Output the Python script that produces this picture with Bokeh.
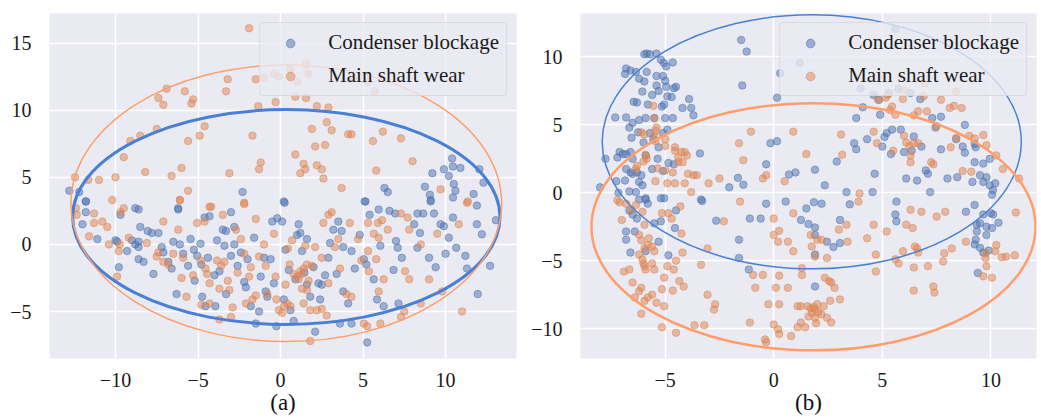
from bokeh.plotting import figure
from bokeh.layouts import row
from bokeh.models import Legend, LegendItem, CustomJSTickFormatter, Range1d, FixedTicker
from bokeh.embed import file_html
from bokeh.resources import INLINE

# ---------------- data: panel (a) ----------------
a_blue = [(-12.8,4.0),(-12.2,3.9),(-11.8,3.2),(-8.6,2.6),(-6.2,2.7),(-2.3,3.9),(0.2,3.2),(5.15,3.2),
(6.3,4.2),(6.5,3.9),(8.75,4.3),(9.05,3.7),(9.1,3.3),(9.2,5.3),(9.9,5.6),(10.2,5.1),(10.4,6.4),(10.45,5.8),
(10.5,4.5),(10.6,4.0),(10.45,3.5),(10.9,5.7),(11.7,3.75),(12.05,5.6),(12.3,4.6),(11.9,2.9),
(-11.8,2.4),(-11.8,3.2),(-12.0,1.5),(-11.1,0.4),(-10.0,0.3),(-9.9,0.2),(-9.7,2.2),(-9.8,-1.7),(-9.3,-0.5),
(-9.0,0.3),(-8.8,0.0),(-8.6,-0.2),(-8.6,0.2),(-8.8,2.7),(-8.5,1.3),(-8.6,-1.1),(-8.3,-1.3),(-8.05,1.0),
(-7.8,0.85),(-7.4,0.85),(-7.7,-2.2),(-7.1,-0.6),(-6.8,-1.3),(-6.5,0.2),(-6.2,2.6),(-6.1,0.0),(-5.9,-0.7),
(-6.3,-3.7),(-5.45,0.4),(-5.25,-0.4),(-5.05,-0.85),(-4.85,0.05),(-4.6,2.0),(-4.3,2.1),(-4.75,-3.9),
(-4.55,-4.6),(-3.95,-4.6),(-4.0,-2.3),(-3.85,0.3),(-3.5,1.1),(-3.3,1.0),(-3.0,2.4),(-3.4,-0.1),(-3.0,-0.85),
(-2.8,0.0),(-3.3,-3.7),(-2.8,1.3),(-2.4,-0.6),(-2.0,-1.1),(-2.1,-3.2),(-1.6,0.5),(-1.0,-1.0),(-0.9,-3.5),
(-0.8,-3.9),(-0.6,-1.1),(-0.5,1.7),(-0.2,1.95),(0.1,1.7),(0.25,3.1),(-0.25,-6.1),(0.3,-0.4),(0.2,-4.1),
(-1.5,-5.9),(-1.3,-5.0),(0.6,-4.9),(0.8,-5.7),(1.0,0.7),(1.1,1.5),(1.2,0.85),(1.3,-0.5),(1.6,0.4),
(1.45,-2.1),(1.8,-3.9),(2.0,-1.7),(2.1,-6.5),(2.3,-2.9),(2.5,-3.0),(2.4,-4.1),(2.7,-2.3),(3.0,0.1),
(3.2,1.1),(3.5,1.7),(3.7,1.0),(3.8,-0.2),(3.4,-2.2),(3.8,-3.5),(4.1,-4.4),(4.3,-5.9),(3.6,-5.9),
(4.3,-0.5),(4.5,-1.8),(4.8,0.7),(5.05,-1.1),(5.2,-1.5),(5.1,3.2),(5.25,-7.3),(5.4,2.2),(5.65,-2.6),
(5.85,-4.1),(5.95,2.6),(6.05,-0.1),(6.25,-4.6),(6.6,2.5),(6.95,2.3),(7.0,0.25),(7.1,-0.25),(7.35,-1.0),
(6.85,-1.9),(7.15,-4.4),(8.1,1.5),(8.3,2.3),(8.65,2.3),(8.45,0.85),(8.3,-0.25),(9.0,-1.0),(9.4,-1.7),
(9.1,3.2),(9.3,2.3),(9.7,1.5),(9.9,1.35),(10.0,-0.7),(10.2,0.5),(10.45,2.0),(10.65,-0.25),(11.2,-0.85),
(11.3,-1.8),(11.9,1.5),(11.95,-3.7),(12.2,0.75),(12.7,-1.6),(13.05,1.8),
(-5.6,-1.6),(-4.4,-1.0),(-3.7,-2.0),(-2.6,-1.6),(-1.2,-2.4),(-0.4,-2.9),(0.9,-2.6),(1.6,-3.0),
(-7.2,-0.2),(-6.6,-1.8),(-5.2,-2.7),(-4.8,-1.5),(-2.2,-2.8),(-1.8,-4.6),(0.5,-1.9),(2.9,-1.0)]
a_orange = [(-1.9,16.1),(0.6,13.0),(1.55,13.4),(1.7,12.7),(-0.4,12.7),(-0.1,12.5),(1.0,12.1),(-3.2,12.3),
(-1.5,12.3),(-1.0,12.4),(-6.9,11.6),(-7.4,10.9),(-7.1,10.4),(-5.8,11.4),(-5.3,10.8),(-5.4,10.5),(-3.3,11.4),
(4.4,12.3),(5.3,12.1),(5.7,11.4),(0.9,11.0),(1.55,10.9),(-0.3,10.6),(-1.35,10.3),(2.2,10.3),(2.9,10.2),
(2.8,9.1),(3.1,8.5),(1.9,8.6),(-7.5,8.6),(-9.1,7.7),(-8.5,8.1),(-4.6,8.8),(-4.9,8.1),(-5.6,7.7),(-1.7,8.1),
(2.1,7.3),(2.7,7.4),(4.1,8.2),(4.3,8.2),(5.6,7.7),(6.2,8.4),(7.3,7.9),(8.0,6.2),(0.9,6.7),(1.4,6.0),
(1.2,5.3),(1.5,5.6),(2.2,5.9),(2.5,5.6),(2.6,4.9),(-1.2,6.1),(-1.3,5.6),(-3.1,5.3),(-6.0,5.7),(-6.6,5.1),
(-8.2,5.4),(-9.5,6.5),(-10.0,5.0),(-11.0,4.8),(-11.65,4.8),(-12.45,5.0),(5.8,5.5),(3.7,4.2),(9.7,4.1),
(11.35,3.2),(-5.6,4.0),(-6.1,3.3),(-2.2,3.1),(-4.3,2.8),(-9.5,2.7),
(-12.4,2.7),(-12.35,2.2),(-11.3,2.3),(-11.3,1.6),(-11.6,0.6),(-10.8,1.7),(-10.5,1.3),(-10.4,0.0),
(-9.7,2.4),(-9.2,0.5),(-9.75,0.0),(-9.8,-0.5),(-9.9,-2.4),(-10.2,3.3),(-8.1,0.1),(-7.4,-0.6),
(-7.5,-0.9),(-7.1,-1.3),(-7.1,1.7),(-6.5,-0.7),(-6.2,1.1),(-6.0,-2.5),(-5.7,-3.9),(-6.1,3.3),(-5.05,1.6),
(-4.6,1.7),(-4.2,2.8),(-3.5,2.2),(-4.85,-1.2),(-4.55,-1.8),(-4.45,-2.2),(-4.3,-2.9),(-4.8,-4.5),(-4.3,-4.4),
(-3.85,-1.2),(-3.6,-1.6),(-3.4,-1.3),(-3.2,-2.7),(-3.1,-3.4),(-3.7,-3.3),(-3.7,-5.6),(-3.0,-5.4),(-2.7,1.1),
(-2.4,0.4),(-2.2,3.0),(-2.2,-0.7),(-1.8,-1.7),(-1.9,-2.4),(-2.1,-4.4),(-1.7,-4.1),(-1.5,-3.8),(-1.5,1.9),
(-1.3,-0.9),(-1.0,0.0),(-0.8,-3.7),(-0.4,0.8),(-0.3,-2.4),(-0.25,-4.1),(-0.1,-4.9),(0.2,-4.6),(0.4,-4.4),
(0.6,-4.6),(0.1,-5.1),(0.45,-0.3),(0.7,0.3),(0.55,-1.5),(0.8,-2.2),(1.0,-2.4),(1.2,-2.0),(1.3,-2.2),
(1.4,-1.8),(1.5,-0.1),(1.6,-1.5),(1.9,-1.6),(1.7,-2.7),(1.3,-3.3),(1.6,-3.4),(1.4,-4.4),(1.8,-4.9),
(2.2,-4.9),(2.5,-4.8),(2.9,-2.9),(2.8,-5.3),(1.8,-7.2),(2.1,-0.2),(2.5,-1.0),(2.6,1.6),(3.1,2.4),(2.9,2.2),
(3.3,-0.2),(3.5,0.4),(3.6,-1.8),(4.0,-3.7),(4.3,-3.9),(4.2,1.6),(4.7,0.4),(4.9,-1.2),(5.3,1.6),(5.3,-0.5),
(5.35,-2.0),(5.05,-5.9),(5.25,-6.1),(5.65,0.8),(5.9,1.6),(5.95,0.5),(5.8,-1.1),(5.95,-3.5),(6.05,-5.9),
(6.15,1.8),(6.5,1.1),(6.25,-2.6),(7.3,2.3),(7.7,2.0),(7.8,1.1),(7.55,-2.0),(7.8,-2.6),(7.3,-5.4),(7.5,-5.0),
(8.5,-4.4),(8.5,0.0),(9.0,-2.6),(9.5,0.8),(9.8,-3.5),(10.8,1.5),(11.0,-5.0),(11.3,3.1),
(-5.3,-2.3),(-2.6,-2.1),(-0.9,-1.6),(0.3,-3.0),(1.1,-2.6),(-6.8,-1.5),(-5.9,-1.0),(-2.9,-4.7)]

# ---------------- data: panel (b) ----------------
b_blue = [(-5.96,10.2),(-5.85,10.25),(-5.7,10.2),(-5.4,10.25),(-5.2,9.8),(-5.06,9.55),(-4.65,9.6),(-4.95,9.3),
(-6.8,9.15),(-6.6,9.0),(-6.85,8.75),(-6.35,8.9),(-6.2,8.4),(-5.96,8.2),(-5.85,8.9),(-5.4,8.6),(-5.1,8.6),
(-5.0,8.25),(-5.4,7.9),(-4.95,7.8),(-4.6,7.7),(-4.5,7.8),(-5.3,7.5),(-4.9,7.1),(-4.7,7.05),(-5.6,7.2),
(-6.05,7.45),(-6.45,6.7),(-6.3,6.65),(-5.8,6.5),(-5.15,6.35),(-5.05,6.5),(-3.9,6.9),(-4.2,6.25),(-3.8,6.25),
(-3.7,5.7),(-7.3,5.55),(-6.8,5.55),(-6.5,5.15),(-6.65,4.8),(-6.2,5.35),(-5.9,5.5),(-5.5,5.5),(-5.0,5.5),
(-4.65,5.5),(-4.9,4.65),(-5.1,4.4),(-5.7,4.4),(-6.25,4.45),(-6.55,4.05),(-6.0,3.7),(-5.55,3.95),(-5.3,3.35),
(-7.75,2.5),(-7.1,3.0),(-6.95,2.85),(-7.2,2.6),(-6.8,2.85),(-6.6,3.0),(-6.5,2.5),(-5.9,2.75),(-5.35,2.5),
(-4.85,2.2),(-4.6,2.1),(-6.8,1.75),(-6.6,1.5),(-6.5,1.4),(-6.3,1.5),(-6.1,1.3),(-5.6,1.75),(-5.1,1.6),
(-7.25,0.85),(-6.85,0.9),(-6.2,0.8),(-6.05,0.55),(-6.35,0.05),(-8.0,0.4),(-7.15,0.0),(-6.65,0.1),(-5.9,-0.4),
(-5.2,-0.4),(-3.4,2.9),(-3.3,-0.6),(-2.05,0.4),(-1.5,11.25),(-1.25,10.4),(-1.45,7.9),(0.15,7.0),(0.3,8.8),
(1.2,9.55),(-0.15,3.65),(0.15,3.8),(-0.35,2.1),(-1.65,1.1),(-1.4,0.6),(0.7,1.35),(1.0,1.5),(1.9,1.7),
(2.35,0.55),(2.9,2.3),(3.35,0.05),(3.7,3.65),(3.8,3.2),(3.8,5.5),(4.0,7.7),(4.1,6.3),(4.3,3.95),(4.65,1.4),
(4.55,0.05),(4.6,7.2),(4.85,6.85),(4.9,5.75),(5.1,4.1),(5.0,3.4),(5.2,4.4),(5.3,7.35),(5.4,2.85),(5.45,4.65),
(5.6,12.05),(5.75,7.65),(5.85,4.65),(6.0,3.0),(6.1,1.05),(6.3,7.35),(6.35,3.1),(6.45,4.15),(6.6,0.9),
(6.75,6.9),(6.8,3.4),(7.0,1.65),(7.1,1.4),(7.2,0.05),(7.3,5.5),(7.7,5.6),(7.45,4.8),(7.7,3.2),(8.0,1.05),
(8.4,3.95),(8.45,1.15),(8.7,3.4),(8.8,5.0),(8.8,2.95),(9.15,0.8),(9.25,2.25),(9.25,3.6),(9.3,3.35),(9.5,1.3),
(9.65,0.8),(9.65,2.15),(9.8,1.15),(9.95,0.55),(10.1,0.2),(10.2,0.7),(10.05,-0.15),(9.95,2.5),
(-6.2,-0.5),(-5.9,-0.5),(-5.8,-0.8),(-5.05,-0.4),(-6.65,-1.3),(-6.3,-1.9),(-6.5,-1.6),(-6.8,-2.85),
(-6.4,-2.85),(-6.8,-3.45),(-6.6,-4.4),(-5.9,-4.3),(-5.3,-3.6),(-5.5,-2.25),(-5.2,-2.1),(-4.5,-1.3),
(-4.55,-2.6),(-4.85,-4.6),(-3.35,-0.5),(-2.65,-2.05),(-1.6,-3.45),(-1.6,-4.8),(-1.15,-5.65),(-1.1,-1.9),
(-0.6,-1.9),(-0.35,-0.8),(0.55,-0.65),(1.5,-1.15),(1.25,-2.0),(1.6,-2.3),(1.9,-2.55),(1.9,-3.1),(1.9,-4.55),
(1.9,-6.9),(1.85,-0.7),(2.2,-0.8),(2.45,-3.6),(2.75,-4.0),(3.05,-2.0),(3.05,-3.7),(3.5,-0.85),(5.65,-0.65),
(5.6,-1.6),(5.65,-2.1),(8.85,-1.4),(9.25,-0.9),(9.65,-1.6),(9.35,-2.35),(9.5,-2.25),(9.8,-2.5),(9.35,-2.85),
(9.8,-3.1),(9.3,-3.45),(9.25,-3.8),(9.5,-4.05),(9.65,-4.4),(9.9,-4.25),(10.0,-1.5),(10.1,-1.6),(10.05,-2.6),
(10.35,-2.2),(9.4,-5.9)]
b_orange = [(-5.55,6.4),(-5.5,5.5),(-5.4,4.8),(-5.45,4.55),(-5.5,4.2),(-5.45,3.8),(-6.1,4.45),(-5.96,4.3),
(-5.0,3.45),(-4.55,3.35),(-4.55,3.1),(-4.25,3.0),(-4.1,3.0),(-4.0,2.75),(-4.4,2.6),(-4.4,2.25),(-4.2,2.25),
(-5.0,3.95),(-5.9,2.8),(-5.85,2.5),(-6.0,2.3),(-6.3,2.0),(-6.35,1.75),(-5.35,1.8),(-5.0,1.65),(-4.65,1.5),
(-3.95,1.4),(-3.7,1.3),(-3.55,1.3),(-5.45,0.85),(-4.9,0.7),(-4.55,0.7),(-4.1,0.7),(-3.0,0.7),(-2.5,1.05),
(-3.8,0.05),(-7.2,-0.55),(-6.8,-0.8),(-1.6,3.65),(-1.4,2.4),(-1.05,4.5),(-0.5,1.05),(-0.35,1.3),(0.5,0.85),
(0.9,4.5),(1.5,2.85),(3.1,4.3),(3.15,2.8),(3.95,-0.05),(4.6,4.5),(4.75,3.65),(4.8,6.85),(5.0,8.65),
(5.15,7.0),(5.25,7.2),(5.35,6.1),(5.45,6.35),(5.5,3.1),(5.6,5.75),(5.95,6.9),(6.0,7.55),(6.0,4.2),(6.1,3.7),
(6.25,3.45),(6.3,2.75),(6.3,2.25),(6.45,3.65),(6.45,5.7),(6.65,3.65),(6.65,6.0),(6.9,7.1),(6.95,8.05),
(7.05,6.0),(7.25,2.25),(7.35,2.1),(7.5,4.9),(7.7,6.85),(8.1,6.25),(8.15,3.35),(8.3,6.4),(8.4,7.45),(8.65,6.25),
(8.4,4.05),(8.7,1.6),(9.1,1.55),(9.0,4.2),(9.25,4.0),(9.65,4.25),(9.8,3.5),(10.25,2.75),(10.55,1.75),
(11.3,1.05),
(-7.1,-0.7),(-7.0,-2.0),(-6.55,-1.25),(-6.35,-0.9),(-6.05,-1.4),(-5.95,-2.35),(-6.2,-3.1),(-6.1,-3.5),
(-5.95,-4.1),(-5.8,-3.85),(-5.75,-3.35),(-5.6,-3.95),(-5.5,-4.3),(-6.2,-4.55),(-6.05,-4.9),(-6.0,-5.2),
(-5.95,-5.4),(-5.9,-5.65),(-5.6,-5.2),(-5.5,-5.65),(-6.65,-5.65),(-6.9,-5.8),(-6.5,-6.6),(-6.2,-7.25),
(-6.1,-7.0),(-6.4,-7.7),(-5.95,-7.95),(-5.8,-7.7),(-6.1,-8.9),(-5.6,-7.5),(-5.4,-8.1),(-5.05,-8.35),
(-5.15,-7.1),(-5.05,-6.25),(-4.9,-5.4),(-4.6,-5.65),(-4.5,-5.0),(-4.35,-6.5),(-4.15,-6.9),(-4.65,-7.2),
(-5.15,-9.9),(-4.5,-10.3),(-4.2,-4.4),(-4.25,-3.0),(-4.7,-1.9),(-4.85,-1.5),(-4.3,-1.0),(-5.15,-1.5),
(-3.65,-9.75),(-3.2,-9.75),(-3.35,-5.3),(-3.05,-7.5),(-2.7,-8.2),(-2.75,-8.6),(-2.3,-2.1),(-3.05,-4.1),
(-1.55,-0.65),(-1.1,-9.55),(-0.95,-6.05),(-0.85,-7.0),(-0.5,-6.05),(-0.4,-10.8),(-0.35,-11.0),(-0.25,-8.2),
(0.0,-1.9),(0.0,-3.1),(0.0,-9.7),(0.1,-7.0),(0.2,-3.6),(0.2,-10.05),(0.25,-2.8),(0.25,-8.2),(0.25,-10.4),
(0.25,-6.1),(0.65,-3.6),(0.65,-7.0),(0.8,-10.55),(0.9,-4.3),(0.9,-1.5),(1.1,-8.35),(1.1,-9.9),(1.25,-9.55),
(1.3,-5.55),(1.3,-6.05),(1.25,-8.35),(1.45,-9.9),(1.55,-8.35),(1.6,-9.1),(1.7,-8.5),(1.75,-8.85),(1.85,-8.4),
(1.9,-8.6),(1.9,-9.2),(2.0,-8.2),(2.05,-8.8),(1.95,-9.6),(2.2,-8.95),(2.3,-8.35),(2.45,-9.2),(2.65,-9.55),
(3.05,-7.85),(2.6,-7.95),(2.35,-6.25),(2.55,-6.5),(2.65,-6.6),(2.8,-7.0),(2.0,-3.45),(2.2,-3.45),(1.9,-4.7),
(1.75,-3.95),(1.7,-3.1),(2.45,-4.8),(3.0,-2.7),(3.35,-2.35),(3.4,-3.6),(3.9,-0.65),(4.3,-3.35),(4.6,-2.35),
(4.7,-4.55),(4.7,-5.8),(5.2,-2.85),(5.6,-4.9),(5.75,-5.2),(5.95,-4.3),(6.1,-2.35),(6.3,-1.25),(6.4,-2.6),
(6.5,-3.95),(6.6,-4.1),(6.65,-4.4),(6.45,-5.5),(6.45,-7.2),(6.8,-1.4),(7.1,-5.4),(7.35,-6.9),(7.4,-7.35),
(7.5,-1.75),(7.8,-5.05),(7.85,-4.45),(7.9,-1.4),(8.2,-4.1),(8.85,-3.6),(9.75,-4.45),(9.75,-4.8),(9.8,-5.4),
(9.65,-6.15),(10.05,-6.25),(10.2,-4.3),(10.25,-3.85),(10.5,-4.75),(11.1,-4.6),(11.15,-1.45),(10.7,-4.7)]

# fitted ellipses: (center x, center y, full width, full height)
a_ell_blue = (0.35, 2.04, 25.9, 16.0)
a_ell_orange = (0.35, 3.06, 26.1, 20.6)
b_ell_blue = (1.75, 3.75, 19.3, 18.7)
b_ell_orange = (1.83, -2.5, 20.45, 18.2)

labels = ["Condenser blockage", "Main shaft wear"]
panel_titles = ["(a)", "(b)"]
a_xticks = [-10, -5, 0, 5, 10]
a_yticks = [-5, 0, 5, 10, 15]
b_xticks = [-5, 0, 5, 10]
b_yticks = [-10, -5, 0, 5, 10]

BLUE = "#4C72B0"
ORANGE = "#DD8452"
EBLUE = "#4A80D4"
EORANGE = "#FF9E6A"
FONT = "Liberation Serif"

fmt_code = "return (tick < 0 ? '\\u2212' + (-tick) : '' + tick);"


def make_panel(blue, orange, ell_b, ell_o, lw_b, lw_o, xr, yr, xt, yt, title, width, bl, br):
    p = figure(width=width, height=417, output_backend="svg", toolbar_location=None,
               x_range=Range1d(*xr), y_range=Range1d(*yr),
               min_border_left=bl, min_border_right=br, min_border_top=13,
               min_border_bottom=55)
    p.background_fill_color = "#EAEAF2"
    p.border_fill_color = "white"
    p.outline_line_color = None
    for g in (p.xgrid, p.ygrid):
        g.grid_line_color = "white"
        g.grid_line_width = 1.5
    p.xaxis.ticker = FixedTicker(ticks=xt)
    p.yaxis.ticker = FixedTicker(ticks=yt)
    for ax in (p.xaxis, p.yaxis):
        ax.axis_line_color = None
        ax.major_tick_line_color = None
        ax.minor_tick_line_color = None
        ax.major_label_text_font = FONT
        ax.major_label_text_font_size = "20px"
        ax.major_label_text_color = "#1a1a1a"
        ax.formatter = CustomJSTickFormatter(code=fmt_code)
    p.xaxis.major_label_standoff = 8
    p.yaxis.major_label_standoff = 12
    p.xaxis.axis_label = title
    p.xaxis.axis_label_text_font = FONT
    p.xaxis.axis_label_text_font_style = "normal"
    p.xaxis.axis_label_text_font_size = "23px"
    p.xaxis.axis_label_text_color = "#111111"
    p.xaxis.axis_label_standoff = 0

    rb = p.scatter([q[0] for q in blue], [q[1] for q in blue], size=7.5,
                   fill_color=BLUE, line_color=BLUE, fill_alpha=0.5, line_alpha=0.5)
    ro = p.scatter([q[0] for q in orange], [q[1] for q in orange], size=7.5,
                   fill_color=ORANGE, line_color=ORANGE, fill_alpha=0.5, line_alpha=0.5)
    p.ellipse(x=[ell_b[0]], y=[ell_b[1]], width=[ell_b[2]], height=[ell_b[3]],
              fill_color=None, line_color=EBLUE, line_width=lw_b)
    p.ellipse(x=[ell_o[0]], y=[ell_o[1]], width=[ell_o[2]], height=[ell_o[3]],
              fill_color=None, line_color=EORANGE, line_width=lw_o)

    leg = Legend(items=[LegendItem(label=labels[0], renderers=[rb]),
                        LegendItem(label=labels[1], renderers=[ro])],
                 location="top_right")
    leg.label_text_font = FONT
    leg.label_text_font_size = "21px"
    leg.label_text_color = "#1a1a1a"
    leg.background_fill_color = "#EAEAF2"
    leg.background_fill_alpha = 0.8
    leg.border_line_color = "#CCCCCC"
    leg.border_line_width = 1
    leg.border_radius = 4
    leg.margin = 9
    leg.padding = 7
    leg.spacing = 8
    leg.label_height = 22
    leg.glyph_height = 22
    leg.glyph_width = 46
    leg.label_standoff = 15
    p.add_layout(leg)
    return p


pa = make_panel(a_blue, a_orange, a_ell_blue, a_ell_orange, 3, 1.5,
                (-14.0, 14.3), (-8.5, 17.2), a_xticks, a_yticks, panel_titles[0], 528, 49, 12)
pb = make_panel(b_blue, b_orange, b_ell_blue, b_ell_orange, 1.5, 2.5,
                (-8.9, 12.1), (-12.2, 13.2), b_xticks, b_yticks, panel_titles[1], 513, 41, 5)

layout = row(pa, pb, spacing=0)
open("out.html", "w").write(file_html(layout, INLINE))
